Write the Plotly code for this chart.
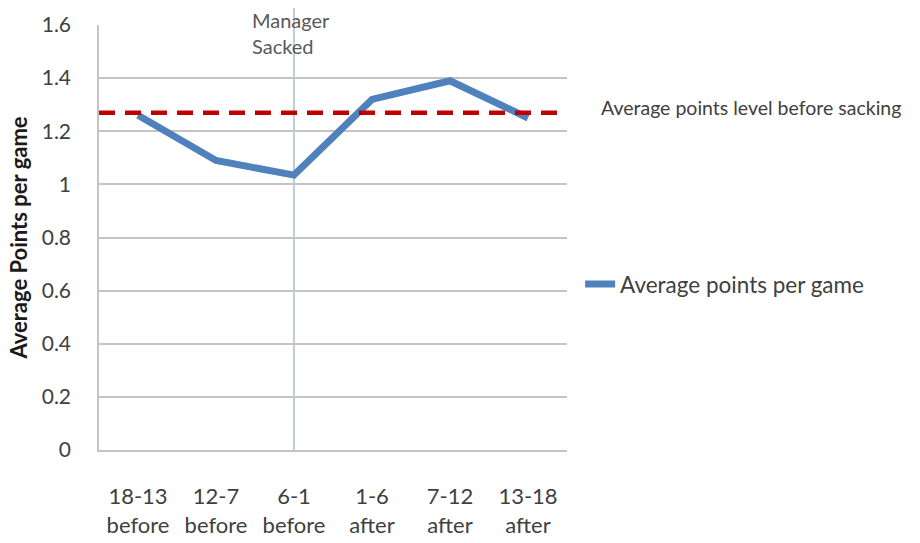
import plotly.graph_objects as go

# Six-game windows around the sacking
periods = ["18-13 before", "12-7 before", "6-1 before", "1-6 after", "7-12 after", "13-18 after"]
tick_labels = ["18-13<br>before", "12-7<br>before", "6-1<br>before",
               "1-6<br>after", "7-12<br>after", "13-18<br>after"]
avg_points = [1.26, 1.09, 1.035, 1.32, 1.39, 1.25]
pre_sack_level = 1.27
sack_period = "6-1 before"

FONT = "Lato, 'Open Sans', sans-serif"
TEXT = "#404040"
GRID = "#c4c4c4"

fig = go.Figure()

fig.add_trace(go.Scatter(
    x=periods, y=avg_points, mode="lines",
    name="Average points per game",
    line=dict(color="#4f81bd", width=7),
))

# Pre-sacking average level
fig.add_shape(type="line", xref="paper", yref="y",
              x0=0, x1=1, y0=pre_sack_level, y1=pre_sack_level,
              line=dict(color="#c00000", width=4.5, dash="16px,10px"), layer="above")

# Sacking marker
fig.add_shape(type="line", xref="x", yref="paper",
              x0=sack_period, x1=sack_period, y0=0, y1=1.04,
              line=dict(color="#7f9db9", width=1), layer="below")

fig.add_annotation(text="Manager<br>Sacked", xref="paper", yref="paper",
                   x=0.322, y=1.045, xanchor="left", yanchor="top", align="left",
                   showarrow=False, font=dict(family=FONT, size=20, color="#595959"))

fig.add_annotation(text="Average points level before sacking", xref="paper", yref="y",
                   x=1.068, y=pre_sack_level + 0.02, xanchor="left", yanchor="middle",
                   showarrow=False, font=dict(family=FONT, size=19.5, color=TEXT))

fig.update_layout(
    width=920, height=543,
    margin=dict(l=99, r=353, t=25, b=93),
    paper_bgcolor="white", plot_bgcolor="white",
    font=dict(family=FONT, color=TEXT),
    showlegend=True,
    legend=dict(x=1.028, y=0.39, xanchor="left", yanchor="middle",
                font=dict(family=FONT, size=22.5, color=TEXT),
                itemwidth=30, bgcolor="rgba(0,0,0,0)"),
)

fig.update_xaxes(
    type="category", categoryorder="array", categoryarray=periods,
    range=[-0.5, len(periods) - 0.5], automargin=False,
    tickmode="array", tickvals=periods, ticktext=tick_labels,
    tickfont=dict(family=FONT, size=22, color=TEXT),
    showgrid=False, showline=True, linecolor=GRID, linewidth=1.5,
    ticks="", ticklabelstandoff=26, zeroline=False,
)

fig.update_yaxes(
    range=[0, 1.6], dtick=0.2, tick0=0, automargin=False,
    tickfont=dict(family=FONT, size=21, color=TEXT),
    showgrid=True, gridcolor=GRID, gridwidth=1.5,
    showline=True, linecolor=GRID, linewidth=1.5,
    zeroline=False, ticks="", ticklabelstandoff=22,
    title=dict(text="<b>Average Points per game</b>",
               font=dict(family=FONT, size=22, color="#1a1a1a"), standoff=8),
)

fig.write_html("out.html")
